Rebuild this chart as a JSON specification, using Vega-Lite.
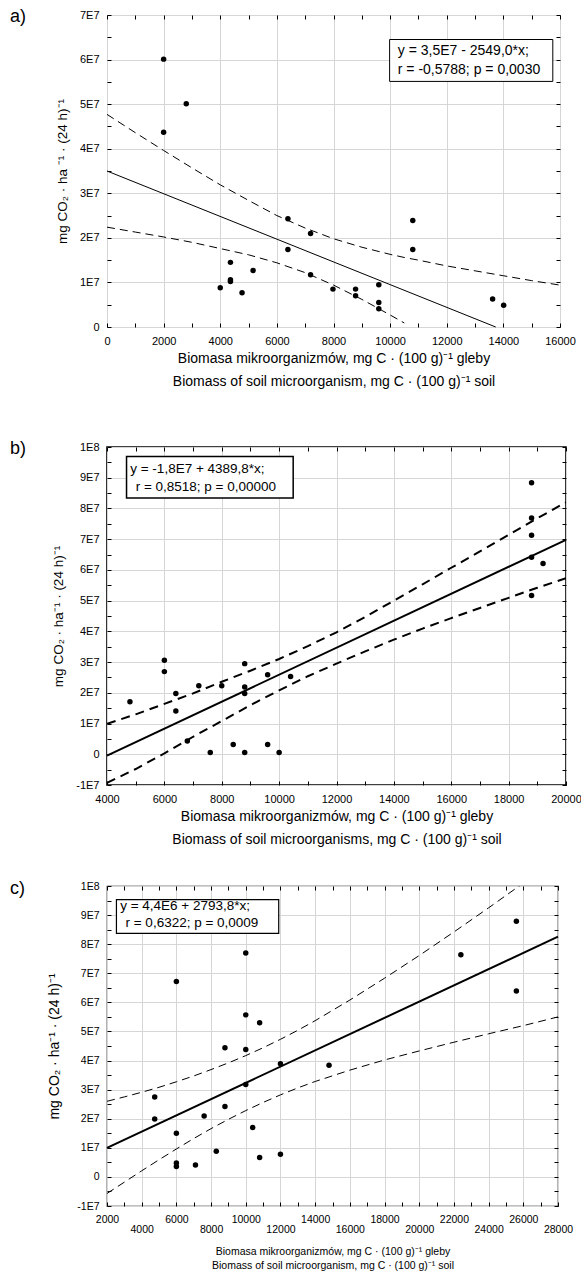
{
  "$schema": "https://vega.github.io/schema/vega-lite/v6.json",
  "background": "white",
  "padding": {"left": 9, "top": 7, "right": 5, "bottom": 0},
  "config": {
    "font": "Liberation Sans",
    "view": {"stroke": "#000", "strokeWidth": 1},
    "axis": {
      "labelFont": "Liberation Sans", "labelFontSize": 11, "labelColor": "#000",
      "titleFont": "Liberation Sans", "titleFontWeight": "normal", "titleColor": "#000", "titleFontSize": 14,
      "domain": false, "tickColor": "#000", "tickSize": -4, "labelPadding": 12,
      "gridColor": "#d6d6d6", "gridWidth": 1, "labelFlush": false, "labelOverlap": false
    },
    "title": {"font": "Liberation Sans", "fontSize": 18, "fontWeight": "normal", "color": "#000"}
  },
  "datasets": {
    "a_pts": [
      {"x": 2000, "y": 60100000}, {"x": 2000, "y": 43700000}, {"x": 2800, "y": 50100000},
      {"x": 4000, "y": 8800000}, {"x": 4360, "y": 14500000}, {"x": 4360, "y": 10600000}, {"x": 4360, "y": 10200000},
      {"x": 4770, "y": 7700000}, {"x": 5160, "y": 12700000}, {"x": 6390, "y": 24300000}, {"x": 6390, "y": 17400000},
      {"x": 7190, "y": 21000000}, {"x": 7190, "y": 11700000}, {"x": 7980, "y": 8500000}, {"x": 8780, "y": 8500000},
      {"x": 8780, "y": 7000000}, {"x": 9600, "y": 9500000}, {"x": 9600, "y": 5500000}, {"x": 9600, "y": 4100000},
      {"x": 10800, "y": 23900000}, {"x": 10800, "y": 17400000}, {"x": 13620, "y": 6300000}, {"x": 14010, "y": 4900000}
    ],
    "a_fit": [{"x": 0, "y": 35000000}, {"x": 13730, "y": 0}],
    "a_band": [
      {"x": 0, "hi": 47700000, "lo": 22400000}, {"x": 1000, "hi": 43600000, "lo": 21300000},
      {"x": 2000, "hi": 39600000, "lo": 20200000}, {"x": 3000, "hi": 35700000, "lo": 19000000},
      {"x": 4000, "hi": 31900000, "lo": 17600000}, {"x": 5000, "hi": 28400000, "lo": 16200000},
      {"x": 6000, "hi": 25000000, "lo": 14400000}, {"x": 7000, "hi": 22200000, "lo": 12200000},
      {"x": 8000, "hi": 19800000, "lo": 9400000}, {"x": 9000, "hi": 17900000, "lo": 6200000},
      {"x": 10000, "hi": 16300000, "lo": 2700000}, {"x": 10500, "hi": 15600000, "lo": 900000},
      {"x": 11000, "hi": 15000000, "lo": null}, {"x": 12000, "hi": 13700000, "lo": null},
      {"x": 13000, "hi": 12600000, "lo": null}, {"x": 14000, "hi": 11500000, "lo": null},
      {"x": 15000, "hi": 10400000, "lo": null}, {"x": 16000, "hi": 9400000, "lo": null}
    ],
    "b_pts": [
      {"x": 4800, "y": 17100000}, {"x": 6000, "y": 30600000}, {"x": 6000, "y": 26900000}, {"x": 6400, "y": 19800000},
      {"x": 6400, "y": 14100000}, {"x": 6800, "y": 4300000}, {"x": 7200, "y": 22300000}, {"x": 7600, "y": 600000},
      {"x": 8000, "y": 22300000}, {"x": 8400, "y": 3200000}, {"x": 8800, "y": 29500000}, {"x": 8800, "y": 21900000},
      {"x": 8800, "y": 19800000}, {"x": 8800, "y": 600000}, {"x": 9600, "y": 25900000}, {"x": 9600, "y": 3200000},
      {"x": 10000, "y": 600000}, {"x": 10400, "y": 25300000}, {"x": 18800, "y": 88400000}, {"x": 18800, "y": 76900000},
      {"x": 18800, "y": 71300000}, {"x": 18800, "y": 64100000}, {"x": 18800, "y": 51700000}, {"x": 19200, "y": 62100000}
    ],
    "b_fit": [{"x": 4000, "y": -440000}, {"x": 20000, "y": 69800000}],
    "b_band": [
      {"x": 4000, "hi": 9900000, "lo": -9300000}, {"x": 5000, "hi": 13000000, "lo": -4800000},
      {"x": 6000, "hi": 16400000, "lo": 300000}, {"x": 7000, "hi": 19800000, "lo": 5700000},
      {"x": 8000, "hi": 23600000, "lo": 10800000}, {"x": 9000, "hi": 27200000, "lo": 16000000},
      {"x": 10000, "hi": 31000000, "lo": 20800000}, {"x": 11000, "hi": 35200000, "lo": 25400000},
      {"x": 12000, "hi": 39700000, "lo": 29500000}, {"x": 13000, "hi": 44700000, "lo": 33500000},
      {"x": 14000, "hi": 50000000, "lo": 37300000}, {"x": 15000, "hi": 55300000, "lo": 40900000},
      {"x": 16000, "hi": 60700000, "lo": 44300000}, {"x": 17000, "hi": 66000000, "lo": 47600000},
      {"x": 18000, "hi": 71400000, "lo": 50900000}, {"x": 19000, "hi": 76800000, "lo": 54200000},
      {"x": 20000, "hi": 82000000, "lo": 57300000}
    ],
    "c_pts": [
      {"x": 4750, "y": 27500000}, {"x": 4750, "y": 19900000}, {"x": 6000, "y": 15000000}, {"x": 6000, "y": 67200000},
      {"x": 6000, "y": 4800000}, {"x": 6000, "y": 3600000}, {"x": 7100, "y": 4100000}, {"x": 7600, "y": 20900000},
      {"x": 8300, "y": 8800000}, {"x": 8800, "y": 44400000}, {"x": 8800, "y": 24200000}, {"x": 10000, "y": 77000000},
      {"x": 10000, "y": 55700000}, {"x": 10000, "y": 43800000}, {"x": 10000, "y": 31800000}, {"x": 10400, "y": 17000000},
      {"x": 10800, "y": 53000000}, {"x": 10800, "y": 6700000}, {"x": 12000, "y": 38900000}, {"x": 12000, "y": 7800000},
      {"x": 14800, "y": 38400000}, {"x": 22400, "y": 76400000}, {"x": 25600, "y": 87900000}, {"x": 25600, "y": 63900000}
    ],
    "c_fit": [{"x": 2000, "y": 9990000}, {"x": 28000, "y": 82600000}],
    "c_band": [
      {"x": 2000, "hi": 26000000, "lo": -5700000}, {"x": 3000, "hi": 27500000, "lo": -1800000},
      {"x": 4000, "hi": 29100000, "lo": 2100000}, {"x": 5000, "hi": 30800000, "lo": 5900000},
      {"x": 6000, "hi": 32700000, "lo": 9600000}, {"x": 7000, "hi": 34700000, "lo": 13200000},
      {"x": 8000, "hi": 36900000, "lo": 16600000}, {"x": 9000, "hi": 39200000, "lo": 19800000},
      {"x": 10000, "hi": 41700000, "lo": 22800000}, {"x": 11000, "hi": 44400000, "lo": 25600000},
      {"x": 12000, "hi": 47300000, "lo": 28200000}, {"x": 13000, "hi": 50400000, "lo": 30600000},
      {"x": 14000, "hi": 53700000, "lo": 32800000}, {"x": 16000, "hi": 60800000, "lo": 36700000},
      {"x": 18000, "hi": 68300000, "lo": 40200000}, {"x": 20000, "hi": 76100000, "lo": 43300000},
      {"x": 22000, "hi": 84200000, "lo": 46300000}, {"x": 24000, "hi": 92500000, "lo": 49200000},
      {"x": 26000, "hi": 101000000, "lo": 52000000}, {"x": 28000, "hi": 109500000, "lo": 55000000}
    ]
  },
  "vconcat": [
    {
      "spacing": 50,
      "vconcat": [
        {
          "width": 453, "height": 312,
          "title": {"text": "a)", "anchor": "start", "frame": "group", "baseline": "top", "offset": 0, "dx": -97, "dy": 17},
          "resolve": {"axis": {"x": "independent", "y": "independent"}},
          "layer": [
            {
              "data": {"name": "a_pts"},
              "mark": {"type": "circle", "size": 30, "color": "#000", "opacity": 1},
              "encoding": {
                "x": {"field": "x", "type": "quantitative", "scale": {"domain": [0, 16000], "nice": false, "zero": false},
                  "axis": {"orient": "bottom", "values": [0,1000,2000,3000,4000,5000,6000,7000,8000,9000,10000,11000,12000,13000,14000,15000,16000],
                    "labelExpr": "datum.value % 2000 === 0 ? format(datum.value, 'd') : ''",
                    "gridOpacity": {"condition": {"test": "datum.value % 2000 === 0", "value": 1}, "value": 0},
                    "title": ["Biomasa mikroorganizmów, mg C · (100 g)⁻¹ gleby", "Biomass of soil microorganism, mg C · (100 g)⁻¹ soil"],
                    "titlePadding": 5, "titleLineHeight": 23}},
                "y": {"field": "y", "type": "quantitative", "scale": {"domain": [0, 70000000], "nice": false, "zero": false},
                  "axis": {"orient": "left", "values": [0,5000000,10000000,15000000,20000000,25000000,30000000,35000000,40000000,45000000,50000000,55000000,60000000,65000000,70000000],
                    "labelExpr": "datum.value % 10000000 !== 0 ? '' : datum.value === 0 ? '0' : (datum.value < 0 ? '-' : '') + round(abs(datum.value) / pow(10, floor(log(abs(datum.value)) / LN10 + 1e-9))) + 'E' + floor(log(abs(datum.value)) / LN10 + 1e-9)",
                    "gridOpacity": {"condition": {"test": "datum.value % 10000000 === 0", "value": 1}, "value": 0},
                    "title": "mg CO₂ · ha ⁻¹ · (24 h)⁻¹", "titleFontSize": 13.5, "titlePadding": 10}}
              }
            },
            {
              "data": {"name": "a_fit"},
              "mark": {"type": "line", "color": "#000", "strokeWidth": 1},
              "encoding": {
                "x": {"field": "x", "type": "quantitative",
                  "axis": {"orient": "top", "values": [0,1000,2000,3000,4000,5000,6000,7000,8000,9000,10000,11000,12000,13000,14000,15000,16000], "labels": false, "grid": false, "title": null}},
                "y": {"field": "y", "type": "quantitative",
                  "axis": {"orient": "right", "values": [0,5000000,10000000,15000000,20000000,25000000,30000000,35000000,40000000,45000000,50000000,55000000,60000000,65000000,70000000], "labels": false, "grid": false, "title": null}}
              }
            },
            {
              "data": {"name": "a_band"},
              "mark": {"type": "line", "color": "#000", "strokeWidth": 1, "strokeDash": [8, 5], "clip": true},
              "encoding": {"x": {"field": "x", "type": "quantitative", "axis": null}, "y": {"field": "hi", "type": "quantitative", "axis": null}}
            },
            {
              "data": {"name": "a_band"},
              "mark": {"type": "line", "color": "#000", "strokeWidth": 1, "strokeDash": [8, 5], "clip": true},
              "encoding": {"x": {"field": "x", "type": "quantitative", "axis": null}, "y": {"field": "lo", "type": "quantitative", "axis": null}}
            },
            {
              "data": {"values": [{"box": "a"}]},
              "mark": {"type": "rect", "fill": "#fff", "stroke": "#000", "strokeWidth": 1},
              "encoding": {
                "x": {"datum": 9982, "type": "quantitative", "axis": null}, "x2": {"datum": 15746},
                "y": {"datum": 64500000, "type": "quantitative", "axis": null}, "y2": {"datum": 55100000}
              }
            },
            {
              "data": {"values": [{"t": "y  = 3,5E7 - 2549,0*x;"}]},
              "mark": {"type": "text", "align": "left", "baseline": "middle", "fontSize": 14, "color": "#000"},
              "encoding": {"x": {"datum": 10270, "type": "quantitative", "axis": null}, "y": {"datum": 62000000, "type": "quantitative", "axis": null}, "text": {"field": "t"}}
            },
            {
              "data": {"values": [{"t": "r = -0,5788; p = 0,0030"}]},
              "mark": {"type": "text", "align": "left", "baseline": "middle", "fontSize": 14, "color": "#000"},
              "encoding": {"x": {"datum": 10270, "type": "quantitative", "axis": null}, "y": {"datum": 57700000, "type": "quantitative", "axis": null}, "text": {"field": "t"}}
            }
          ]
        },
        {
          "width": 459, "height": 338,
          "view": {"stroke": "#000", "strokeWidth": 1.6},
          "title": {"text": "b)", "anchor": "start", "frame": "group", "baseline": "top", "offset": 0, "dx": -97, "dy": 17},
          "resolve": {"axis": {"x": "independent", "y": "independent"}},
          "layer": [
            {
              "data": {"name": "b_pts"},
              "mark": {"type": "circle", "size": 30, "color": "#000", "opacity": 1},
              "encoding": {
                "x": {"field": "x", "type": "quantitative", "scale": {"domain": [4000, 20000], "nice": false, "zero": false},
                  "axis": {"orient": "bottom", "values": [4000,5000,6000,7000,8000,9000,10000,11000,12000,13000,14000,15000,16000,17000,18000,19000,20000],
                    "labelExpr": "datum.value % 2000 === 0 ? format(datum.value, 'd') : ''",
                    "gridOpacity": {"condition": {"test": "datum.value % 2000 === 0", "value": 1}, "value": 0},
                    "title": ["Biomasa mikroorganizmów, mg C · (100 g)⁻¹ gleby", "Biomass of soil microorganisms, mg C · (100 g)⁻¹ soil"],
                    "titlePadding": 5, "titleLineHeight": 23}},
                "y": {"field": "y", "type": "quantitative", "scale": {"domain": [-10000000, 100000000], "nice": false, "zero": false},
                  "axis": {"orient": "left", "values": [-10000000,-5000000,0,5000000,10000000,15000000,20000000,25000000,30000000,35000000,40000000,45000000,50000000,55000000,60000000,65000000,70000000,75000000,80000000,85000000,90000000,95000000,100000000],
                    "labelExpr": "datum.value % 10000000 !== 0 ? '' : datum.value === 0 ? '0' : (datum.value < 0 ? '-' : '') + round(abs(datum.value) / pow(10, floor(log(abs(datum.value)) / LN10 + 1e-9))) + 'E' + floor(log(abs(datum.value)) / LN10 + 1e-9)",
                    "gridOpacity": {"condition": {"test": "datum.value % 10000000 === 0", "value": 1}, "value": 0},
                    "title": "mg CO₂ · ha⁻¹ · (24 h)⁻¹", "titleFontSize": 13.5, "titlePadding": 10}}
              }
            },
            {
              "data": {"name": "b_fit"},
              "mark": {"type": "line", "color": "#000", "strokeWidth": 2},
              "encoding": {
                "x": {"field": "x", "type": "quantitative",
                  "axis": {"orient": "top", "values": [4000,5000,6000,7000,8000,9000,10000,11000,12000,13000,14000,15000,16000,17000,18000,19000,20000], "labels": false, "grid": false, "title": null}},
                "y": {"field": "y", "type": "quantitative",
                  "axis": {"orient": "right", "values": [-10000000,-5000000,0,5000000,10000000,15000000,20000000,25000000,30000000,35000000,40000000,45000000,50000000,55000000,60000000,65000000,70000000,75000000,80000000,85000000,90000000,95000000,100000000], "labels": false, "grid": false, "title": null}}
              }
            },
            {
              "data": {"name": "b_band"},
              "mark": {"type": "line", "color": "#000", "strokeWidth": 2, "strokeDash": [9, 6], "clip": true},
              "encoding": {"x": {"field": "x", "type": "quantitative", "axis": null}, "y": {"field": "hi", "type": "quantitative", "axis": null}}
            },
            {
              "data": {"name": "b_band"},
              "mark": {"type": "line", "color": "#000", "strokeWidth": 2, "strokeDash": [9, 6], "clip": true},
              "encoding": {"x": {"field": "x", "type": "quantitative", "axis": null}, "y": {"field": "lo", "type": "quantitative", "axis": null}}
            },
            {
              "data": {"values": [{"box": "b"}]},
              "mark": {"type": "rect", "fill": "#fff", "stroke": "#000", "strokeWidth": 1.5},
              "encoding": {
                "x": {"datum": 4681, "type": "quantitative", "axis": null}, "x2": {"datum": 10490},
                "y": {"datum": 96900000, "type": "quantitative", "axis": null}, "y2": {"datum": 83400000}
              }
            },
            {
              "data": {"values": [{"t": "y  = -1,8E7 + 4389,8*x;"}]},
              "mark": {"type": "text", "align": "left", "baseline": "middle", "fontSize": 13.5, "color": "#000"},
              "encoding": {"x": {"datum": 4810, "type": "quantitative", "axis": null}, "y": {"datum": 92800000, "type": "quantitative", "axis": null}, "text": {"field": "t"}}
            },
            {
              "data": {"values": [{"t": "r = 0,8518; p = 0,00000"}]},
              "mark": {"type": "text", "align": "left", "baseline": "middle", "fontSize": 13.5, "color": "#000"},
              "encoding": {"x": {"datum": 5000, "type": "quantitative", "axis": null}, "y": {"datum": 86900000, "type": "quantitative", "axis": null}, "text": {"field": "t"}}
            }
          ]
        }
      ]
    },
    {
      "width": 451, "height": 320,
      "view": {"stroke": "#000", "strokeWidth": 1.2},
      "title": {"text": "c)", "anchor": "start", "frame": "group", "baseline": "top", "offset": 0, "dx": -97, "dy": 17},
      "resolve": {"axis": {"x": "independent", "y": "independent"}},
      "layer": [
        {
          "data": {"name": "c_pts"},
          "mark": {"type": "circle", "size": 30, "color": "#000", "opacity": 1},
          "encoding": {
            "x": {"field": "x", "type": "quantitative", "scale": {"domain": [2000, 28000], "nice": false, "zero": false},
              "axis": {"orient": "bottom", "values": [2000,3000,4000,5000,6000,7000,8000,9000,10000,11000,12000,13000,14000,15000,16000,17000,18000,19000,20000,21000,22000,23000,24000,25000,26000,27000,28000],
                "labelExpr": "(datum.value - 2000) % 4000 === 0 ? format(datum.value, 'd') : ''",
                "gridOpacity": {"condition": {"test": "datum.value % 2000 === 0", "value": 1}, "value": 0},
                "labelFontSize": 10.5, "title": null}},
            "y": {"field": "y", "type": "quantitative", "scale": {"domain": [-10000000, 100000000], "nice": false, "zero": false},
              "axis": {"orient": "left", "values": [-10000000,-5000000,0,5000000,10000000,15000000,20000000,25000000,30000000,35000000,40000000,45000000,50000000,55000000,60000000,65000000,70000000,75000000,80000000,85000000,90000000,95000000,100000000],
                "labelExpr": "datum.value % 10000000 !== 0 ? '' : datum.value === 0 ? '0' : (datum.value < 0 ? '-' : '') + round(abs(datum.value) / pow(10, floor(log(abs(datum.value)) / LN10 + 1e-9))) + 'E' + floor(log(abs(datum.value)) / LN10 + 1e-9)",
                "labelFontSize": 10.5,
                "gridOpacity": {"condition": {"test": "datum.value % 10000000 === 0", "value": 1}, "value": 0},
                "title": "mg CO₂ · ha⁻¹ · (24 h)⁻¹", "titleFontSize": 14, "titlePadding": 15}}
          }
        },
        {
          "data": {"name": "c_fit"},
          "mark": {"type": "line", "color": "#000", "strokeWidth": 2},
          "encoding": {
            "x": {"field": "x", "type": "quantitative",
              "axis": {"orient": "top", "values": [2000,3000,4000,5000,6000,7000,8000,9000,10000,11000,12000,13000,14000,15000,16000,17000,18000,19000,20000,21000,22000,23000,24000,25000,26000,27000,28000], "labels": false, "grid": false, "title": null}},
            "y": {"field": "y", "type": "quantitative",
              "axis": {"orient": "right", "values": [-10000000,-5000000,0,5000000,10000000,15000000,20000000,25000000,30000000,35000000,40000000,45000000,50000000,55000000,60000000,65000000,70000000,75000000,80000000,85000000,90000000,95000000,100000000], "labels": false, "grid": false, "title": null}}
          }
        },
        {
          "data": {"name": "c_band"},
          "mark": {"type": "line", "color": "#000", "strokeWidth": 1, "strokeDash": [8, 5], "clip": true},
          "encoding": {
            "x": {"field": "x", "type": "quantitative",
              "axis": {"orient": "bottom", "values": [4000,8000,12000,16000,20000,24000,28000], "format": "d",
                "ticks": false, "grid": false, "labelFontSize": 10.5, "labelPadding": 18,
                "title": ["Biomasa mikroorganizmów, mg C · (100 g)⁻¹ gleby", "Biomass of soil microorganism, mg C · (100 g)⁻¹ soil"],
                "titleFontSize": 10.5, "titlePadding": 12, "titleLineHeight": 14}},
            "y": {"field": "hi", "type": "quantitative", "axis": null}
          }
        },
        {
          "data": {"name": "c_band"},
          "mark": {"type": "line", "color": "#000", "strokeWidth": 1, "strokeDash": [8, 5], "clip": true},
          "encoding": {"x": {"field": "x", "type": "quantitative", "axis": null}, "y": {"field": "lo", "type": "quantitative", "axis": null}}
        },
        {
          "data": {"values": [{"box": "c"}]},
          "mark": {"type": "rect", "fill": "#fff", "stroke": "#000", "strokeWidth": 1.2},
          "encoding": {
            "x": {"datum": 2544, "type": "quantitative", "axis": null}, "x2": {"datum": 11900},
            "y": {"datum": 95300000, "type": "quantitative", "axis": null}, "y2": {"datum": 83700000}
          }
        },
        {
          "data": {"values": [{"t": "y  = 4,4E6 + 2793,8*x;"}]},
          "mark": {"type": "text", "align": "left", "baseline": "middle", "fontSize": 13.5, "color": "#000"},
          "encoding": {"x": {"datum": 2760, "type": "quantitative", "axis": null}, "y": {"datum": 93100000, "type": "quantitative", "axis": null}, "text": {"field": "t"}}
        },
        {
          "data": {"values": [{"t": "r = 0,6322; p = 0,0009"}]},
          "mark": {"type": "text", "align": "left", "baseline": "middle", "fontSize": 13.5, "color": "#000"},
          "encoding": {"x": {"datum": 3066, "type": "quantitative", "axis": null}, "y": {"datum": 87200000, "type": "quantitative", "axis": null}, "text": {"field": "t"}}
        }
      ]
    }
  ],
  "spacing": 32
}
